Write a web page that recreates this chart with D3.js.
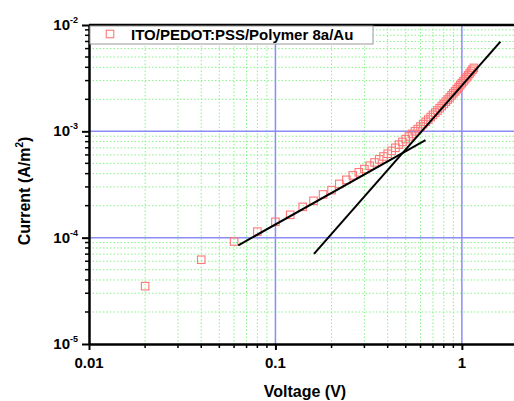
<!DOCTYPE html>
<html>
<head>
<meta charset="utf-8">
<script src="https://cdn.jsdelivr.net/npm/d3@7"></script>
<style>
  body { margin: 0; background: #fff; }
  svg { display: block; font-family: "Liberation Sans", Arial, sans-serif; }
</style>
</head>
<body>
<div id="chart"></div>
<script>
// measured I-V data (V, A/m^2)
var voltage = [0.02, 0.04, 0.06, 0.08, 0.10, 0.12, 0.14, 0.16, 0.18, 0.20,
  0.22, 0.24, 0.26, 0.28, 0.30, 0.32, 0.34, 0.36, 0.38, 0.40,
  0.42, 0.44, 0.46, 0.48, 0.50, 0.52, 0.54, 0.56, 0.58, 0.60,
  0.62, 0.64, 0.66, 0.68, 0.70, 0.72, 0.74, 0.76, 0.78, 0.80,
  0.82, 0.84, 0.86, 0.88, 0.90, 0.92, 0.94, 0.96, 0.98, 1.00,
  1.02, 1.04, 1.06, 1.08, 1.10, 1.12, 1.14, 1.16]
var current = [3.5e-5, 6.2e-5, 9.2e-5, 1.14e-4, 1.41e-4, 1.64e-4, 1.95e-4, 2.22e-4, 2.55e-4, 2.8e-4,
  3.2e-4, 3.5e-4, 3.85e-4, 4.12e-4, 4.42e-4, 4.75e-4, 5.1e-4, 5.45e-4, 5.8e-4, 6.15e-4,
  6.55e-4, 7.0e-4, 7.5e-4, 7.95e-4, 8.45e-4, 8.95e-4, 9.45e-4, 1.0e-3, 1.05e-3, 1.11e-3,
  1.17e-3, 1.23e-3, 1.29e-3, 1.36e-3, 1.43e-3, 1.5e-3, 1.57e-3, 1.65e-3, 1.73e-3, 1.81e-3,
  1.9e-3, 1.99e-3, 2.08e-3, 2.18e-3, 2.28e-3, 2.38e-3, 2.49e-3, 2.6e-3, 2.72e-3, 2.84e-3,
  2.96e-3, 3.09e-3, 3.22e-3, 3.36e-3, 3.5e-3, 3.65e-3, 3.8e-3, 3.95e-3]

// fitted lines: ohmic and SCLC regions [[V, I], [V, I]]
var ohmicFit = [[0.0632, 8.47e-5], [0.638, 8.28e-4]]
var sclcFit = [[0.161, 7.03e-5], [1.61, 6.97e-3]]

var xMajor = [0.01, 0.1, 1]
var xMajorLabels = ["0.01", "0.1", "1"]
var yMajor = [1e-5, 1e-4, 1e-3, 1e-2]
var yMajorExp = ["-5", "-4", "-3", "-2"]
var seriesName = "ITO/PEDOT:PSS/Polymer 8a/Au"

var width = 514, height = 401
var margin = { left: 89, top: 25 }
var plotRight = 518, plotBottom = 344

var svg = d3.select("#chart").append("svg")
  .attr("width", width)
  .attr("height", height)

var x = d3.scaleLog().domain([0.01, 2]).range([margin.left, plotRight])
var y = d3.scaleLog().domain([1e-5, 1e-2]).range([plotBottom, margin.top])

// minor values
var xMinor = []
;[0.01, 0.1, 1].forEach(function (d) {
  for (var k = 2; k <= 9; k++) { if (d * k <= 2) xMinor.push(d * k) }
})
var yMinor = []
;[1e-5, 1e-4, 1e-3].forEach(function (d) {
  for (var k = 2; k <= 9; k++) yMinor.push(d * k)
})

var grid = svg.append("g").attr("class", "grid")

grid.selectAll("line.xminor").data(xMinor).enter().append("line")
  .attr("x1", function (d) { return x(d) }).attr("x2", function (d) { return x(d) })
  .attr("y1", margin.top).attr("y2", plotBottom)
  .attr("stroke", "#8af28a").attr("stroke-width", 1).attr("stroke-dasharray", "1.5,2")

grid.selectAll("line.yminor").data(yMinor).enter().append("line")
  .attr("x1", margin.left).attr("x2", plotRight)
  .attr("y1", function (d) { return y(d) }).attr("y2", function (d) { return y(d) })
  .attr("stroke", "#8af28a").attr("stroke-width", 1).attr("stroke-dasharray", "1.5,2")

grid.selectAll("line.xmajor").data([0.1, 1]).enter().append("line")
  .attr("x1", function (d) { return x(d) }).attr("x2", function (d) { return x(d) })
  .attr("y1", margin.top).attr("y2", plotBottom)
  .attr("stroke", "#8c8cf5").attr("stroke-width", 1.5)

grid.selectAll("line.ymajor").data([1e-4, 1e-3]).enter().append("line")
  .attr("x1", margin.left).attr("x2", plotRight)
  .attr("y1", function (d) { return y(d) }).attr("y2", function (d) { return y(d) })
  .attr("stroke", "#8c8cf5").attr("stroke-width", 1.5)

// data points
var points = voltage.map(function (v, i) { return [v, current[i]] })
var s = 7.5
svg.append("g").attr("class", "points")
  .selectAll("rect").data(points).enter().append("rect")
    .attr("x", function (d) { return x(d[0]) - s / 2 })
    .attr("y", function (d) { return y(d[1]) - s / 2 })
    .attr("width", s).attr("height", s)
    .attr("fill", "none")
    .attr("stroke", "#f77")
    .attr("stroke-width", 1.1)

// fit lines
var line = d3.line().x(function (d) { return x(d[0]) }).y(function (d) { return y(d[1]) })
svg.append("path").datum(ohmicFit).attr("d", line)
  .attr("fill", "none").attr("stroke", "#000").attr("stroke-width", 2)
svg.append("path").datum(sclcFit).attr("d", line)
  .attr("fill", "none").attr("stroke", "#000").attr("stroke-width", 2)

// axes
var xAxis = svg.append("g").attr("transform", "translate(0," + plotBottom + ")")
  .call(d3.axisBottom(x).tickValues(xMajor).tickFormat("").tickSize(6).tickSizeOuter(0))
xAxis.append("g").selectAll("line").data(xMinor).enter().append("line")
  .attr("x1", function (d) { return x(d) }).attr("x2", function (d) { return x(d) })
  .attr("y1", 0).attr("y2", 4).attr("stroke", "#000").attr("stroke-width", 1.5)
xAxis.select(".domain").attr("stroke-width", 2.5)
xAxis.selectAll(".tick line").attr("stroke-width", 2)

var yAxis = svg.append("g").attr("transform", "translate(" + margin.left + ",0)")
  .call(d3.axisLeft(y).tickValues(yMajor).tickFormat("").tickSize(7).tickSizeOuter(0))
yAxis.append("g").selectAll("line").data(yMinor).enter().append("line")
  .attr("x1", -4).attr("x2", 0)
  .attr("y1", function (d) { return y(d) }).attr("y2", function (d) { return y(d) })
  .attr("stroke", "#000").attr("stroke-width", 1.5)
yAxis.select(".domain").attr("stroke-width", 2.5)
yAxis.selectAll(".tick line").attr("stroke-width", 2)

// top frame
svg.append("line")
  .attr("x1", margin.left).attr("x2", plotRight)
  .attr("y1", margin.top).attr("y2", margin.top)
  .attr("stroke", "#000").attr("stroke-width", 2.5)

// tick labels
svg.append("g").selectAll("text").data(xMajor).enter().append("text")
  .attr("x", function (d) { return x(d) })
  .attr("y", plotBottom + 24)
  .attr("text-anchor", "middle")
  .attr("font-size", 15).attr("font-weight", "bold")
  .text(function (d, i) { return xMajorLabels[i] })

var yLabels = svg.append("g").selectAll("text").data(yMajor).enter().append("text")
  .attr("x", 78)
  .attr("y", function (d) { return y(d) + 5 })
  .attr("text-anchor", "end")
  .attr("font-size", 15).attr("font-weight", "bold")
yLabels.append("tspan").text("10")
yLabels.append("tspan").attr("dy", -7).attr("font-size", 9).text(function (d, i) { return yMajorExp[i] })

// axis titles
svg.append("text")
  .attr("x", 305).attr("y", 397)
  .attr("text-anchor", "middle")
  .attr("font-size", 16).attr("font-weight", "bold")
  .text("Voltage (V)")

var yTitle = svg.append("text")
  .attr("transform", "translate(30,191) rotate(-90)")
  .attr("text-anchor", "middle")
  .attr("font-size", 16).attr("font-weight", "bold")
yTitle.append("tspan").text("Current (A/m")
yTitle.append("tspan").attr("dy", -7).attr("font-size", 10).text("2")
yTitle.append("tspan").attr("dy", 7).text(")")

// legend
var legend = svg.append("g")
legend.append("rect")
  .attr("x", margin.left + 1).attr("y", margin.top + 1)
  .attr("width", 283).attr("height", 18)
  .attr("fill", "#fff").attr("stroke", "#999").attr("stroke-width", 1)
legend.append("rect")
  .attr("x", 110 - s / 2).attr("y", 34 - s / 2)
  .attr("width", s).attr("height", s)
  .attr("fill", "none").attr("stroke", "#f77").attr("stroke-width", 1.1)
legend.append("text")
  .attr("x", 131).attr("y", 40)
  .attr("font-size", 15).attr("font-weight", "bold")
  .text(seriesName)
</script>
</body>
</html>
